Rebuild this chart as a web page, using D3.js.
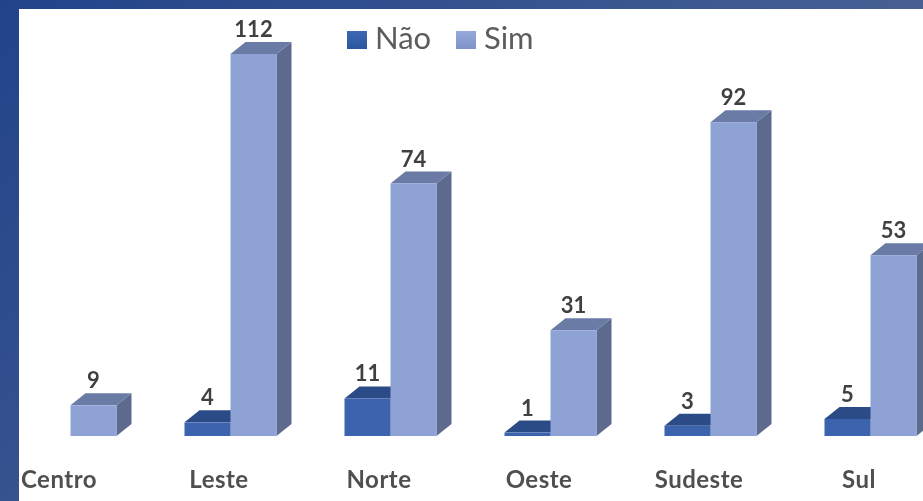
<!DOCTYPE html>
<html>
<head>
<meta charset="utf-8">
<script src="https://cdn.jsdelivr.net/npm/d3@7"></script>
<style>
html, body { margin: 0; padding: 0; background: #fff; overflow: hidden; }
svg { display: block; }
text { font-family: Lato, "Open Sans", sans-serif; }
</style>
</head>
<body>
<svg></svg>
<script>
var categories = ["Centro", "Leste", "Norte", "Oeste", "Sudeste", "Sul"];
var seriesNames = ["Não", "Sim"];
var naoValues = [0, 4, 11, 1, 3, 5];
var simValues = [9, 112, 74, 31, 92, 53];

var svgWidth = 923,
    svgHeight = 501,
    panelLeft = 19,
    panelTop = 9,
    baseY = 436,
    topY = 54,
    depthX = 15,
    depthY = 12;

var colors = {
    "Não": { front: "#3a64ae", top: "#2b4c86", side: "#2f4e85" },
    "Sim": { front: "#8fa2d6", top: "#6a7ba6", side: "#5b6a8e" }
};

var svg = d3.select("svg")
    .attr("width", svgWidth)
    .attr("height", svgHeight);

var defs = svg.append("defs");

var bg = defs.append("linearGradient")
    .attr("id", "bg")
    .attr("gradientUnits", "userSpaceOnUse")
    .attr("x1", 0).attr("y1", 0)
    .attr("x2", 720).attr("y2", 720);
bg.append("stop").attr("offset", 0).attr("stop-color", "#22438a");
bg.append("stop").attr("offset", 1).attr("stop-color", "#5a7098");

var soft = defs.append("filter").attr("id", "soft");
soft.append("feGaussianBlur").attr("stdDeviation", 0.5);

seriesNames.forEach(function (name, i) {
    var g = defs.append("linearGradient")
        .attr("id", "swatch" + i)
        .attr("x1", 0).attr("y1", 0)
        .attr("x2", 0).attr("y2", 1);
    g.append("stop").attr("offset", 0).attr("stop-color", i ? "#97a9da" : "#3d68b2");
    g.append("stop").attr("offset", 1).attr("stop-color", i ? "#7f93c9" : "#2c559f");
});

// background and white plot panel
svg.append("rect")
    .attr("width", svgWidth)
    .attr("height", svgHeight)
    .attr("fill", "url(#bg)");

svg.append("rect")
    .attr("x", panelLeft)
    .attr("y", panelTop)
    .attr("width", svgWidth - panelLeft)
    .attr("height", svgHeight - panelTop)
    .attr("fill", "#fff");

// scales
var x = d3.scaleBand()
    .domain(categories)
    .range([-9.5, 950.5]);

var xInner = d3.scaleBand()
    .domain(seriesNames)
    .range([34, 126]);

var y = d3.scaleLinear()
    .domain([0, 112])
    .range([baseY, topY]);

var rows = [];
seriesNames.forEach(function (name, s) {
    var values = s === 0 ? naoValues : simValues;
    categories.forEach(function (cat, i) {
        if (values[i] > 0) {
            rows.push({ cat: cat, series: name, value: values[i] });
        }
    });
});

var chart = svg.append("g").attr("filter", "url(#soft)");

var bars = chart.selectAll("g.bar")
    .data(rows)
    .join("g")
    .attr("class", "bar")
    .attr("transform", function (d) { return "translate(" + (x(d.cat) + xInner(d.series)) + ",0)"; });

var w = xInner.bandwidth();

// right side of the box
bars.append("path")
    .attr("fill", function (d) { return colors[d.series].side; })
    .attr("d", function (d) {
        var t = y(d.value);
        return "M" + w + "," + t + "L" + (w + depthX) + "," + (t - depthY) +
            "L" + (w + depthX) + "," + (baseY - depthY) + "L" + w + "," + baseY + "Z";
    });

// top of the box
bars.append("path")
    .attr("fill", function (d) { return colors[d.series].top; })
    .attr("d", function (d) {
        var t = y(d.value);
        return "M0," + t + "L" + depthX + "," + (t - depthY) +
            "L" + (w + depthX) + "," + (t - depthY) + "L" + w + "," + t + "Z";
    });

bars.append("rect")
    .attr("y", function (d) { return y(d.value); })
    .attr("width", w)
    .attr("height", function (d) { return baseY - y(d.value); })
    .attr("fill", function (d) { return colors[d.series].front; });

// value labels
bars.append("text")
    .attr("x", w / 2)
    .attr("y", function (d) { return y(d.value) - depthY - 5; })
    .attr("text-anchor", "middle")
    .attr("font-size", "22px")
    .attr("font-weight", "bold")
    .attr("fill", "#404040")
    .text(function (d) { return d.value; });

// category axis, labels sit a little left of the groups
var xAxis = svg.append("g")
    .attr("filter", "url(#soft)")
    .attr("transform", "translate(-11.5,471)")
    .call(d3.axisBottom(x).tickSize(0));
xAxis.select(".domain").remove();
xAxis.selectAll("text")
    .attr("y", 0)
    .attr("dy", "17px")
    .attr("font-size", "24px")
    .attr("font-weight", "bold")
    .attr("font-family", "Lato, sans-serif")
    .attr("letter-spacing", "0.5px")
    .attr("fill", "#505050");

// legend
var legend = svg.append("g").attr("filter", "url(#soft)");
var legendX = d3.scaleOrdinal().domain(seriesNames).range([347, 456]);

var items = legend.selectAll("g")
    .data(seriesNames)
    .join("g")
    .attr("transform", function (d) { return "translate(" + legendX(d) + ",31)"; });

items.append("rect")
    .attr("width", 20)
    .attr("height", 18)
    .attr("fill", function (d, i) { return "url(#swatch" + i + ")"; });

items.append("text")
    .attr("x", 28)
    .attr("y", 18)
    .attr("font-size", "31px")
    .attr("fill", "#5c5c5c")
    .text(function (d) { return d; });
</script>
</body>
</html>
